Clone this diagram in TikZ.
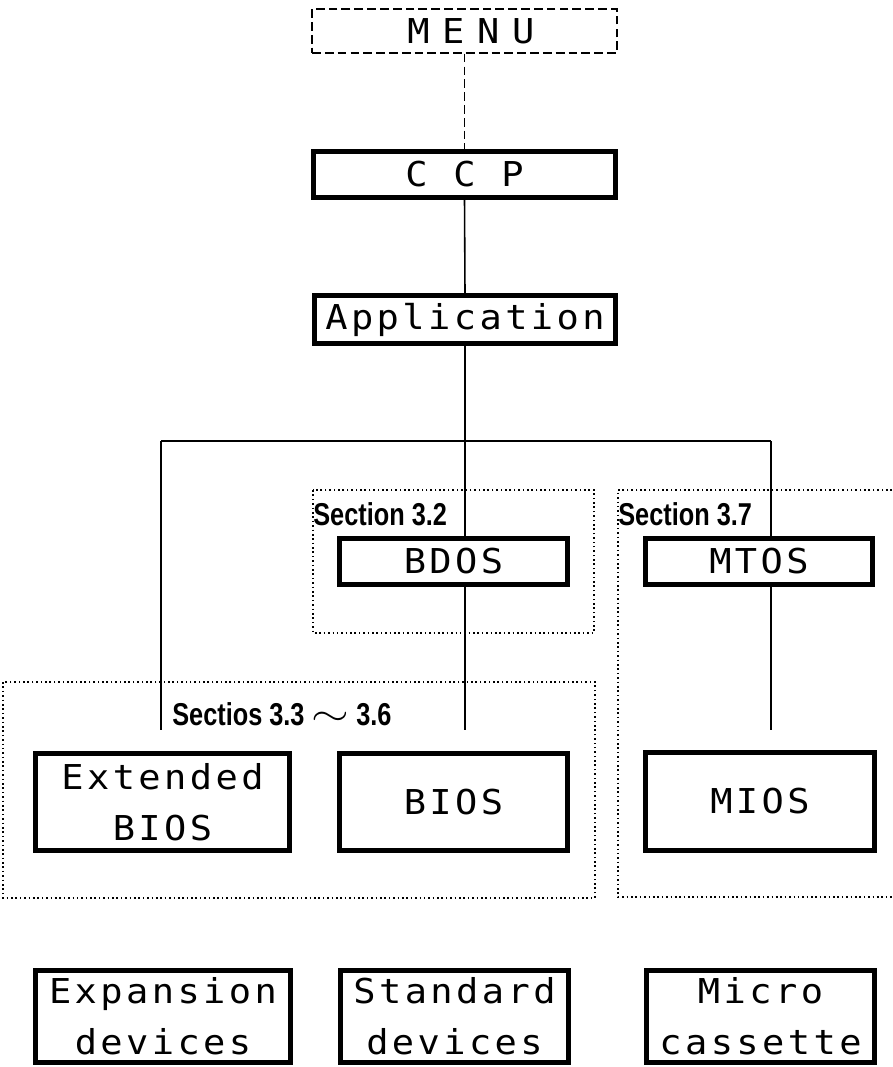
\documentclass[tikz,border=0pt]{standalone}
\usepackage{fontspec}
\usepackage{tikz}
\newfontfamily\boxfont[FakeStretch=1.08,LetterSpace=10]{DejaVu Sans Mono}
\newfontfamily\menufont[FakeStretch=1.08,LetterSpace=37]{DejaVu Sans Mono}
\newfontfamily\secfont[FakeStretch=0.8]{Liberation Sans Bold}
\newcommand{\boxtext}{\boxfont\fontsize{19.5}{29}\selectfont}
\newcommand{\menutext}{\menufont\fontsize{19.5}{29}\selectfont}
\newcommand{\sectext}{\secfont\fontsize{18}{20}\selectfont}
\newcommand{\wavy}{\scalebox{1.6}[1.2]{$\sim$}}
\tikzset{
  blk/.style={draw, line width=2.5pt, fill=white, inner sep=0pt, align=center, font=\boxtext},
  menubox/.style={draw, line width=0.8pt, dash pattern=on 5pt off 2.3pt, inner sep=0pt, font=\menutext},
  secbox/.style={line width=0.9pt, dash pattern=on 0.9pt off 1.6pt},
  wire/.style={line width=0.9pt},
  seclabel/.style={inner sep=0pt, anchor=west, font=\sectext}
}

\begin{document}
\begin{tikzpicture}[x=0.02cm, y=-0.02cm]
  \useasboundingbox (0,0) rectangle (892,1067);

  % section frames
  \draw[secbox] (313,490) rectangle (594,633);
  \draw[secbox] (892,490) -| (618,897) -- (892,897);
  \draw[secbox] (3,682) rectangle (595,898);

  \node[menubox, minimum width=6.10cm, minimum height=0.88cm] (menu) at (464.5,31) {\hspace*{0.37em}MENU};
  \node[blk, minimum width=6.04cm, minimum height=0.92cm] (ccp) at (464.5,174.5) {C C P};
  \node[blk, minimum width=6.02cm, minimum height=0.96cm] (app) at (465,319.5) {Application};

  \node[blk, minimum width=4.56cm, minimum height=0.92cm] (bdos) at (453.5,561.5) {BDOS};
  \node[blk, minimum width=4.54cm, minimum height=0.92cm] (mtos) at (759,561.5) {MTOS};

  \node[blk, minimum width=5.08cm, minimum height=1.94cm] (xbios) at (162.5,802) {Extended\\BIOS};
  \node[blk, minimum width=4.56cm, minimum height=1.94cm] (bios) at (453.5,802) {BIOS};
  \node[blk, minimum width=4.58cm, minimum height=1.96cm] (mios) at (760,801.5) {MIOS};

  \node[blk, minimum width=5.10cm, minimum height=1.84cm] (expdev) at (163,1016.5) {Expansion\\devices};
  \node[blk, minimum width=4.56cm, minimum height=1.84cm] (stddev) at (454.5,1016.5) {Standard\\devices};
  \node[blk, minimum width=4.56cm, minimum height=1.84cm] (mcass) at (760.5,1016.5) {Micro\\cassette};

  \node[seclabel] (sec32) at (313,514) {Section 3.2};
  \node[seclabel] (sec37) at (618,514) {Section 3.7};
  \node[seclabel] (sec36) at (172,714) {Sectios 3.3 \wavy{} 3.6};

  % connectors
  \coordinate (split) at (465,441);
  \coordinate (busL) at (161,441);
  \coordinate (busR) at (771,441);
  \coordinate (xend) at (161,730);
  \coordinate (bend) at (465,730);
  \coordinate (mend) at (771,730);

  \draw[wire, dash pattern=on 5pt off 2.3pt] (menu.south) -- (ccp.north);
  \draw[wire] (ccp.south) -- (app.north);
  \draw[wire] (app.south) -- (split);
  \draw[wire] (busL) -- (busR);
  \draw[wire] (busL) -- (xend);
  \draw[wire] (split) -- (bdos.north -| split);
  \draw[wire] (bdos.south -| split) -- (bend);
  \draw[wire] (busR) -- (mtos.north -| busR);
  \draw[wire] (mtos.south -| busR) -- (mend);
\end{tikzpicture}
\end{document}
